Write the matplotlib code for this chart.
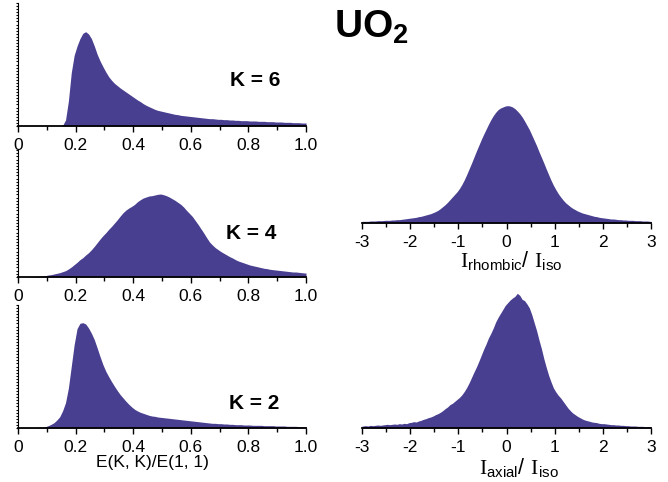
import numpy as np
import matplotlib
matplotlib.use("Agg")
import matplotlib.pyplot as plt

plt.rcParams["font.family"] = ["Liberation Sans", "DejaVu Sans"]
plt.rcParams["mathtext.fontset"] = "custom"
plt.rcParams["mathtext.rm"] = "Liberation Serif"
plt.rcParams["mathtext.sf"] = "Liberation Sans"
plt.rcParams["mathtext.bf"] = "Liberation Sans:bold"

FILL = "#483F90"

# histogram counts (arbitrary units), bins of 0.01 from 0 to 1
k6_counts = [0] * 15 + [
    2, 18, 75, 160, 212, 240, 262, 278, 283, 276,
    262, 240, 215, 195, 178, 162, 148, 137, 128, 121,
    114, 108, 102, 96, 90, 84, 78, 73, 67, 62,
    58, 54, 50, 47, 45, 43, 41, 39, 37, 35,
    34, 32, 31, 30, 29, 28, 27, 26, 25, 24,
    23, 22, 22, 21, 20, 20, 19, 19, 18, 18,
    17, 17, 16, 16, 16, 15, 15, 15, 14, 14,
    14, 13, 13, 13, 12, 12, 12, 11, 11, 11,
    10, 10, 10, 9, 9]
k4_counts = [
    0, 0, 0, 0, 1, 1, 2, 2, 3, 4,
    6, 7, 9, 11, 13, 16, 19, 24, 30, 37,
    44, 52, 58, 66, 73, 82, 92, 103, 114, 124,
    133, 143, 152, 162, 172, 183, 193, 201, 207, 212,
    218, 226, 232, 237, 240, 243, 244, 246, 248, 249,
    247, 244, 240, 235, 230, 224, 218, 210, 200, 191,
    182, 170, 158, 145, 132, 118, 105, 96, 88, 82,
    76, 71, 66, 61, 57, 52, 48, 45, 42, 39,
    36, 34, 32, 30, 28, 26, 25, 23, 22, 21,
    20, 19, 18, 17, 16, 15, 15, 14, 13, 12]
k2_counts = [
    1, 1, 1, 1, 1, 1, 1, 2, 2, 4,
    7, 11, 16, 24, 34, 52, 76, 120, 185, 250,
    298, 314, 316, 312, 300, 284, 265, 240, 214, 190,
    170, 154, 139, 125, 112, 100, 90, 80, 71, 63,
    56, 51, 47, 44, 41, 38, 36, 35, 33, 32,
    31, 30, 29, 28, 27, 26, 25, 24, 23, 22,
    21, 20, 19, 18, 17, 16, 15, 14, 14, 13,
    13, 12, 12, 11, 11, 10, 10, 10, 9, 9,
    9, 8, 8, 8, 8, 7, 7, 7, 7, 6,
    6, 6, 6, 5, 5, 5, 5, 4, 4, 4]

# bins of 0.05 from -3 to 3
rhombic_counts = [
    5, 5, 5, 6, 6, 6, 7, 7, 7, 8,
    8, 8, 9, 9, 10, 10, 11, 12, 13, 14,
    15, 16, 17, 19, 20, 22, 24, 26, 28, 31,
    34, 38, 43, 49, 55, 62, 70, 78, 86, 94,
    104, 116, 130, 146, 163, 180, 198, 216, 233, 250,
    266, 281, 296, 310, 322, 332, 340, 345, 348, 351,
    352, 351, 348, 343, 336, 328, 318, 306, 293, 280,
    264, 248, 232, 214, 197, 180, 162, 145, 128, 113,
    100, 88, 78, 69, 61, 55, 49, 44, 40, 36,
    33, 30, 28, 26, 24, 22, 20, 19, 17, 16,
    15, 14, 13, 12, 12, 11, 10, 10, 9, 9,
    8, 8, 8, 7, 7, 7, 6, 6, 6, 5]
axial_counts = [
    6, 7, 6, 8, 7, 8, 9, 8, 9, 10,
    11, 10, 11, 12, 11, 13, 12, 14, 13, 16,
    17, 19, 18, 21, 23, 26, 28, 31, 33, 36,
    40, 43, 47, 52, 58, 63, 70, 74, 80, 86,
    92, 100, 110, 122, 136, 152, 168, 183, 200, 218,
    236, 252, 270, 284, 300, 318, 332, 344, 356, 368,
    376, 384, 390, 395, 404, 398, 386, 382, 372, 360,
    340, 316, 292, 264, 238, 208, 182, 158, 138, 120,
    108, 98, 90, 80, 70, 60, 52, 45, 40, 35,
    31, 27, 24, 22, 20, 18, 17, 16, 14, 13,
    13, 12, 11, 10, 10, 9, 9, 8, 8, 7,
    7, 6, 6, 6, 5, 5, 5, 4, 4, 4]

left_ticks = [0, 0.2, 0.4, 0.6, 0.8, 1.0]
left_ticklabels = ["0", "0.2", "0.4", "0.6", "0.8", "1.0"]
right_ticks = [-3, -2, -1, 0, 1, 2, 3]
right_ticklabels = ["-3", "-2", "-1", "0", "1", "2", "3"]

W, H = 668, 482
fig = plt.figure(figsize=(W / 100, H / 100), dpi=100)


def px_axes(x0, y_base, w, h):
    return fig.add_axes([x0 / W, (H - y_base) / H, w / W, h / H])


def draw_hist(ax, counts, lo, hi):
    # histogram outline through bin centres
    n = len(counts)
    step = (hi - lo) / n
    centers = lo + step * (np.arange(n) + 0.5)
    x = np.concatenate([[lo], centers, [hi]])
    y = np.concatenate([[counts[0]], counts, [counts[-1]]])
    ax.fill_between(x, 0, y, color=FILL, linewidth=0)


def style_x(ax, ticks, labels, minor):
    ax.set_xticks(ticks)
    ax.set_xticklabels(labels)
    ax.set_xticks(minor, minor=True)
    ax.tick_params(axis="x", which="major", direction="out", length=4, width=1,
                   labelsize=12.5, pad=4.5)
    ax.tick_params(axis="x", which="minor", direction="out", length=3, width=1)
    ax.spines["bottom"].set_linewidth(1.3)
    ax.spines["bottom"].set_zorder(3)
    for s in ("top", "right"):
        ax.spines[s].set_visible(False)


left_panels = [
    (k6_counts, 126, 123, "K = 6", 0.823, 0.366),
    (k4_counts, 277, 127, "K = 4", 0.809, 0.346),
    (k2_counts, 428, 123, "K = 2", 0.819, 0.20),
]
for counts, base, h, label, tx, ty in left_panels:
    ax = px_axes(18, base, 288, h)
    draw_hist(ax, counts, 0, 1)
    ax.set_xlim(0, 1)
    top = h * 3
    ax.set_ylim(0, top)
    style_x(ax, left_ticks, left_ticklabels, np.arange(0.1, 1.0, 0.2))
    ax.set_yticks(np.linspace(0, top, 41))
    ax.set_yticklabels([])
    ax.tick_params(axis="y", direction="out", length=1.5, width=0.8)
    ax.spines["left"].set_linewidth(0.8)
    ax.text(tx, ty, label, transform=ax.transAxes, ha="center", va="center",
            fontsize=15, fontweight="bold")

right_panels = [
    (rhombic_counts, 223, 130),
    (axial_counts, 428, 145),
]
for counts, base, h in right_panels:
    ax = px_axes(362, base, 289, h)
    draw_hist(ax, counts, -3, 3)
    ax.set_xlim(-3, 3)
    ax.set_ylim(0, h * 3)
    style_x(ax, right_ticks, right_ticklabels, np.arange(-2.5, 3, 1.0))
    ax.spines["left"].set_visible(False)
    ax.set_yticks([])

fig.text(152 / W, 1 - 462 / H, "E(K, K)/E(1, 1)", ha="center", va="center",
         fontsize=12.5)
fig.text(511 / W, 1 - 267 / H,
         r"$\mathrm{I}_{\mathsf{rhombic}}\mathsf{/}\ \mathrm{I}_{\mathsf{iso}}$",
         ha="center", va="baseline", fontsize=15.5)
fig.text(519 / W, 1 - 474 / H,
         r"$\mathrm{I}_{\mathsf{axial}}\mathsf{/}\ \mathrm{I}_{\mathsf{iso}}$",
         ha="center", va="baseline", fontsize=15.5)
fig.text(371 / W, 1 - 27 / H, r"$\mathbf{UO_2}$", ha="center", va="center",
         fontsize=28)

fig.savefig("out.png", dpi=100)
